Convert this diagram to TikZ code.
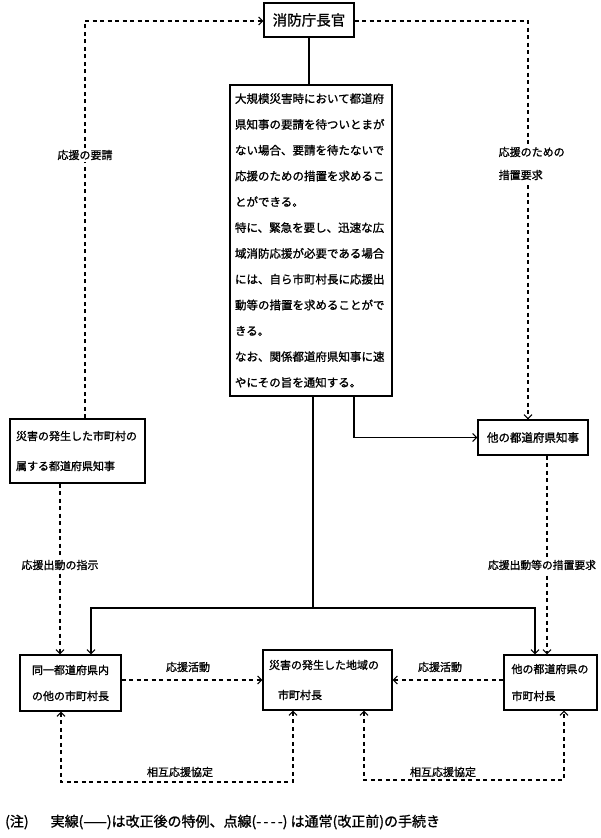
\documentclass[tikz,border=0pt]{standalone}
\usepackage{fontspec}
\newfontfamily\jp{Noto Sans CJK JP}[FakeBold=1.2]
\usetikzlibrary{arrows.meta,calc}
\begin{document}
\begin{tikzpicture}[x=1pt,y=-1pt,
  box/.style={draw,line width=1.3pt,inner sep=0pt,font=\jp\fontsize{11.5}{13}\selectfont},
  sol/.style={line width=1.3pt},
  dsh/.style={line width=1.3pt,dash pattern=on 4pt off 3.5pt},
  tip/.style={-{Straight Barb[length=4pt,width=8pt,line width=1.1pt]}},
  tips/.style={{Straight Barb[length=4pt,width=8pt,line width=1.1pt]}-{Straight Barb[length=4pt,width=8pt,line width=1.1pt]}},
  lbl/.style={font=\jp\fontsize{11}{23}\selectfont,fill=white,inner sep=1.5pt},
  txt/.style={font=\jp\fontsize{11}{23}\selectfont,inner sep=1pt},
]
\useasboundingbox (0,0) rectangle (600,838);
\fill[white] (0,0) rectangle (600,838);

% nodes
\node[box,minimum width=90pt,minimum height=34pt,font=\jp\fontsize{14.5}{16}\selectfont] (T) at (309,20) {消防庁長官};
\node[box,minimum width=162pt,minimum height=311pt,text width=152pt,align=left,inner xsep=5pt,font=\jp\fontsize{11.5}{25.8}\selectfont] (C) at (311,240.5) {大規模災害時において都道府\\
県知事の要請を待ついとまが\\
ない場合、要請を待たないで\\
応援のための措置を求めるこ\\
とができる。\\
特に、緊急を要し、迅速な広\\
域消防応援が必要である場合\\
には、自ら市町村長に応援出\\
動等の措置を求めることがで\\
きる。\\
なお、関係都道府県知事に速\\
やにその旨を通知する。};
\node[box,minimum width=135pt,minimum height=64pt,text width=123pt,align=left,inner xsep=6pt,font=\jp\fontsize{11}{30}\selectfont] (L) at (77.5,451) {災害の発生した市町村の\\属する都道府県知事};
\node[box,minimum width=110pt,minimum height=35pt] (R1) at (533,437.5) {他の都道府県知事};
\node[box,minimum width=101pt,minimum height=56pt,align=center,font=\jp\fontsize{11}{26}\selectfont] (B1) at (70.5,683) {同一都道府県内\\の他の市町村長};
\node[box,minimum width=129pt,minimum height=60pt,text width=117pt,align=left,inner xsep=6pt,font=\jp\fontsize{11}{30}\selectfont] (B2) at (327.5,680) {災害の発生した地域の\\\hspace*{9pt}市町村長};
\node[box,minimum width=93pt,minimum height=55pt,text width=78pt,align=left,inner xsep=7.5pt,font=\jp\fontsize{11}{27}\selectfont] (B3) at (550.5,682.5) {他の都道府県の\\市町村長};

% coordinates
\coordinate (lt) at (85,21);
\coordinate (rt) at (528,21);
\coordinate (cr) at (354,437.5);
\coordinate (cm) at (313,608);
\coordinate (hl) at (91,608);
\coordinate (hr) at (535,608);
\coordinate (ld) at (60,500);
\coordinate (rd) at (547,500);
\coordinate (ma) at (200,680);
\coordinate (a1) at (61,782);
\coordinate (a2) at (293,782);
\coordinate (b1) at (364,780);
\coordinate (b2) at (564,780);

% solid connectors
\draw[sol] (T.south) -- (T.south |- C.north);
\draw[sol,tip] (C.south -| cr) -- (cr) -- (R1.west |- cr);
\draw[sol] (C.south -| cm) -- (cm);
\draw[sol,tip] (cm) -- (hl) -- (B1.north -| hl);
\draw[sol,tip] (cm) -- (hr) -- (B3.north -| hr);

% dashed connectors
\draw[dsh,tip] (L.north -| lt) -- (lt) -- (T.west |- lt);
\draw[dsh,tip] (T.east |- rt) -- (rt) -- (R1.north -| rt);
\draw[dsh,tip] (L.south -| ld) -- (B1.north -| ld);
\draw[dsh,tip] (R1.south -| rd) -- (B3.north -| rd);
\draw[dsh,tip] (B1.east |- ma) -- (B2.west |- ma);
\draw[dsh,tip] (B3.west |- ma) -- (B2.east |- ma);
\draw[dsh,tips] (B1.south -| a1) -- (a1) -- (a2) -- (B2.south -| a2);
\draw[dsh,tips] (B2.south -| b1) -- (b1) -- (b2) -- (B3.south -| b2);

% labels
\node[lbl] (l1) at (85,155) {応援の要請};
\node[lbl,align=left,anchor=west] (l2) at (497,163.5) {応援のための\\措置要求};
\node[lbl] (l3) at (60,565) {応援出動の指示};
\node[lbl,font=\jp\fontsize{10.8}{23}\selectfont] (l4) at (542,565) {応援出動等の措置要求};
\node[txt] (l5) at (188,667) {応援活動};
\node[txt] (l6) at (440,667) {応援活動};
\node[txt] (l7) at (180,772) {相互応援協定};
\node[txt] (l8) at (443,772) {相互応援協定};
\node[anchor=west,inner sep=0pt,font=\jp\fontsize{14}{16}\selectfont] (fn) at (5,822) {(注)\hspace{22pt}実線(——)は改正後の特例、点線(-\,-\,-\,-) は通常(改正前)の手続き};
\end{tikzpicture}
\end{document}
